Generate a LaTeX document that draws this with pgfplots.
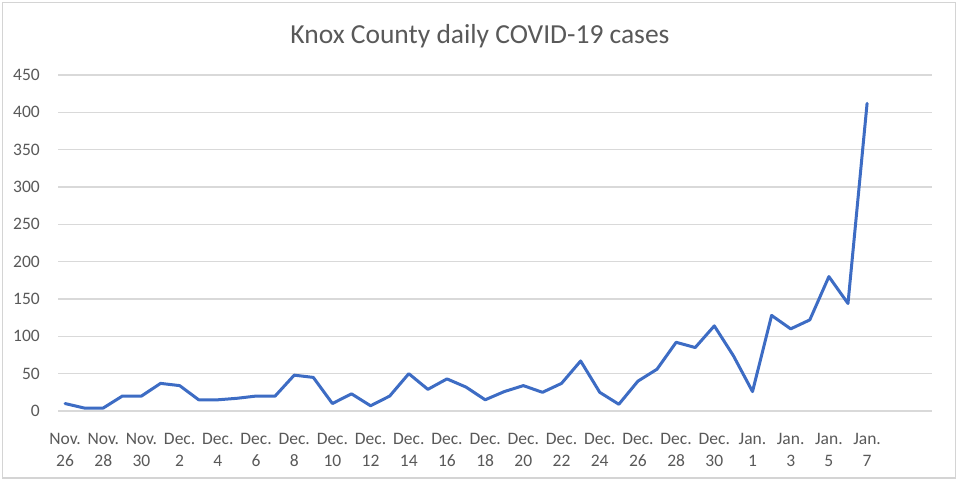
\documentclass[border=0pt]{standalone}
\usepackage{fontspec}
\setmainfont{Carlito}
\usepackage{pgfplots}
\pgfplotsset{compat=1.18}

\definecolor{xlblue}{HTML}{3D6CC4}
\definecolor{xlgrid}{HTML}{D9D9D9}
\definecolor{xltext}{HTML}{595959}
\definecolor{xlframe}{HTML}{D4D4D4}

\pgfplotstableread{
day cases
0 10
1 4
2 4
3 20
4 20
5 37
6 34
7 15
8 15
9 17
10 20
11 20
12 48
13 45
14 10
15 23
16 7
17 20
18 50
19 29
20 43
21 32
22 15
23 26
24 34
25 25
26 37
27 67
28 25
29 9
30 40
31 56
32 92
33 85
34 114
35 74
36 26
37 128
38 110
39 122
40 180
41 144
42 412
}\cases

\begin{document}
\begin{tikzpicture}
\useasboundingbox (0,0) rectangle (960bp,481bp);
\fill[white] (0,0) rectangle (960bp,481bp);
\draw[xlframe, line width=1.5bp] (2.5bp,3bp) rectangle (955.5bp,478.5bp);

\begin{axis}[
    at={(58bp,70bp)},
    anchor=south west,
    scale only axis,
    width=874bp,
    height=336bp,
    xmin=-0.37, xmax=45.4,
    ymin=0, ymax=450,
    ytick={0,50,...,450},
    xtick={0,2,...,42},
    xticklabels={
        Nov.\\26, Nov.\\28, Nov.\\30, Dec.\\2, Dec.\\4, Dec.\\6, Dec.\\8,
        Dec.\\10, Dec.\\12, Dec.\\14, Dec.\\16, Dec.\\18, Dec.\\20, Dec.\\22,
        Dec.\\24, Dec.\\26, Dec.\\28, Dec.\\30, Jan.\\1, Jan.\\3, Jan.\\5, Jan.\\7
    },
    axis line style={draw=none},
    major tick length=0pt,
    tick style={draw=none},
    ymajorgrids,
    grid style={xlgrid, line width=1.5bp},
    /pgf/number format/assume math mode=true,
    ticklabel style={font=\fontsize{17.5bp}{22bp}\selectfont, text=xltext},
    yticklabel style={anchor=east, inner sep=0pt, xshift=-18bp},
    xticklabel style={anchor=north, align=center, inner sep=0pt, yshift=-22bp},
    clip=false,
]
\addplot[xlblue, line width=3bp, line join=round, line cap=round]
    table[x=day, y=cases] {\cases};
\end{axis}

\node[text=xltext, font=\fontsize{27.5bp}{33bp}\selectfont] at (480bp,445bp)
    {Knox County daily COVID-19 cases};
\end{tikzpicture}
\end{document}
